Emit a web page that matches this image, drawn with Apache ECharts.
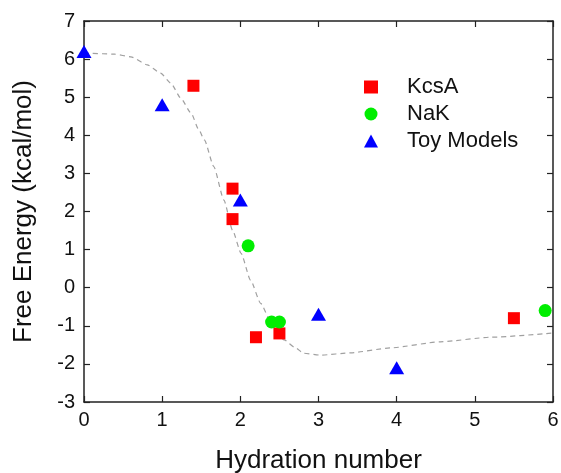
<!DOCTYPE html>
<html>
<head>
<meta charset="utf-8">
<script src="https://cdn.jsdelivr.net/npm/echarts@6/dist/echarts.min.js"></script>
<style>html,body{margin:0;padding:0;background:#fff;}#c{width:561px;height:473px;}</style>
</head>
<body>
<div id="c"></div>
<script>
// Data
var kcsA = [[1.4, 5.3], [1.9, 2.6], [1.9, 1.8], [2.2, -1.3], [2.5, -1.2], [5.5, -0.8]];
var naK = [[2.1, 1.1], [2.4, -0.9], [2.5, -0.9], [5.9, -0.6]];
var toyModels = [[0, 6.2], [1, 4.8], [2, 2.3], [3, -0.7], [4, -2.1]];
var fitCurve = [[0, 6.15], [0.09, 6.15], [0.39, 6.13], [0.6, 6.06], [0.81, 5.85], [0.98, 5.63],
  [1.11, 5.37], [1.24, 4.97], [1.37, 4.58], [1.47, 4.14], [1.54, 3.88], [1.66, 3.18],
  [1.79, 2.3], [1.9, 1.51], [2.01, 0.9], [2.13, 0.2], [2.26, -0.41], [2.39, -0.89],
  [2.56, -1.37], [2.7, -1.57], [2.81, -1.72], [3.03, -1.77], [3.41, -1.71], [3.92, -1.58],
  [4.56, -1.42], [5.2, -1.3], [6, -1.19]];
var seriesNames = ['KcsA', 'NaK', 'Toy Models'];
var xTitle = 'Hydration number';
var yTitle = 'Free Energy (kcal/mol)';

var FONT = '"Liberation Sans", Arial, sans-serif';
var axisCol = '#222';
var chart = echarts.init(document.getElementById('c'), null, {renderer: 'canvas'});
function ax(extra) {
  return Object.assign({
    type: 'value',
    axisLine: {show: true, onZero: false, lineStyle: {color: axisCol, width: 1.5}},
    axisTick: {show: true, inside: true, length: 6, lineStyle: {color: axisCol, width: 1.2}},
    splitLine: {show: false},
    axisLabel: {show: true, color: '#111', fontFamily: FONT, fontSize: 20}
  }, extra);
}
chart.setOption({
  animation: false,
  backgroundColor: '#fff',
  grid: {left: 84, right: 8, top: 21, bottom: 71, containLabel: false, outerBoundsMode: 'none'},
  legend: {
    data: [
      {name: seriesNames[0], icon: 'rect'},
      {name: seriesNames[1], icon: 'circle'},
      {name: seriesNames[2], icon: 'triangle'}
    ],
    orient: 'vertical',
    left: 359, top: 71,
    itemWidth: 14, itemHeight: 13, itemGap: 5,
    textStyle: {fontFamily: FONT, fontSize: 22, color: '#111', padding: [0, 0, 0, 24]}
  },
  xAxis: [
    ax({min: 0, max: 6, interval: 1, position: 'bottom', name: xTitle, nameLocation: 'middle', nameGap: 46,
        nameTextStyle: {fontFamily: FONT, fontSize: 26, color: '#111'},
        axisLabel: {show: true, color: '#111', fontFamily: FONT, fontSize: 20, margin: 8}}),
    ax({min: 0, max: 6, interval: 1, position: 'top', axisLabel: {show: false}})
  ],
  yAxis: [
    ax({min: -3, max: 7, interval: 1, position: 'left', name: yTitle, nameLocation: 'middle', nameGap: 47,
        nameTextStyle: {fontFamily: FONT, fontSize: 26, color: '#111'},
        axisLabel: {show: true, color: '#111', fontFamily: FONT, fontSize: 20, margin: 9}}),
    ax({min: -3, max: 7, interval: 1, position: 'right', axisLabel: {show: false}})
  ],
  series: [
    {name: 'fit', type: 'line', data: fitCurve, smooth: 0.2, smoothMonotone: 'x', symbol: 'none', silent: true,
     lineStyle: {color: '#a0a0a0', width: 1.2, type: [5, 4]}, z: 1},
    {name: seriesNames[0], type: 'scatter', data: kcsA, symbol: 'rect', symbolSize: 12,
     itemStyle: {color: '#ff0000', opacity: 1}, z: 3},
    {name: seriesNames[1], type: 'scatter', data: naK, symbol: 'circle', symbolSize: 13,
     itemStyle: {color: '#00ee00', opacity: 1}, z: 3},
    {name: seriesNames[2], type: 'scatter', data: toyModels, symbol: 'triangle', symbolSize: [15, 13],
     itemStyle: {color: '#0000ff', opacity: 1}, z: 3}
  ]
});
</script>
</body>
</html>
